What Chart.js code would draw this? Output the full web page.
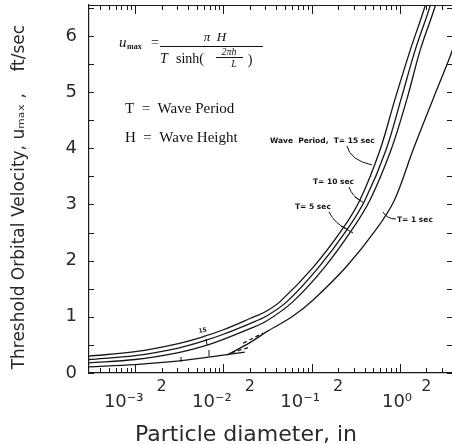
<!DOCTYPE html>
<html>
<head>
<meta charset="utf-8">
<script src="https://cdn.jsdelivr.net/npm/chart.js@4/dist/chart.umd.min.js"></script>
<style>
  html, body { margin: 0; padding: 0; background: #fff; }
  #wrap { width: 452px; height: 444px; position: relative; }
</style>
</head>
<body>
<div id="wrap"><canvas id="chart"></canvas></div>
<script>
// particle diameter (in) / threshold orbital velocity (ft/sec)
var t15D = [0.0003, 0.001, 0.003, 0.006, 0.01, 0.02, 0.0305, 0.0439, 0.104, 0.221, 0.353, 0.596, 0.88, 1.32, 1.92, 2.3];
var t15V = [0.30, 0.38, 0.52, 0.65, 0.77, 0.97, 1.10, 1.27, 1.88, 2.55, 3.08, 3.97, 4.87, 5.76, 6.52, 7.0];

var t10D = [0.0003, 0.001, 0.003, 0.006, 0.01, 0.02, 0.0305, 0.0526, 0.12, 0.252, 0.403, 0.697, 1.03, 1.50, 2.19, 2.6];
var t10V = [0.24, 0.31, 0.44, 0.57, 0.69, 0.88, 1.01, 1.27, 1.88, 2.55, 3.08, 3.97, 4.87, 5.76, 6.52, 7.0];

var t5D = [0.0003, 0.001, 0.003, 0.006, 0.01, 0.02, 0.0305, 0.0615, 0.14, 0.287, 0.459, 0.794, 1.20, 1.71, 2.50, 3.0];
var t5V = [0.18, 0.24, 0.36, 0.48, 0.60, 0.79, 0.92, 1.27, 1.88, 2.55, 3.08, 3.97, 4.87, 5.76, 6.52, 7.0];

var t1D = [0.011, 0.02, 0.0313, 0.06, 0.104, 0.25, 0.536, 0.87, 1.41, 2.37, 3.7, 4.6];
var t1V = [0.32, 0.54, 0.74, 1.0, 1.30, 1.9, 2.55, 3.08, 3.97, 4.87, 5.63, 6.05];

// lower (fine grain) branch of the T = 1 sec curve
var t1FineD = [0.0003, 0.001, 0.003, 0.006, 0.01, 0.0175];
var t1FineV = [0.11, 0.15, 0.21, 0.27, 0.32, 0.37];

// short dashed transition strokes
var transD = [0.0122, 0.019, 0.0175, 0.0167, 0.028];
var transV = [0.36, 0.45, null, 0.53, 0.71];

// axis ticks
var xTickValues = [];
[-4, -3, -2, -1, 0].forEach(function (e) {
  for (var m = 1; m <= 9; m++) {
    var v = Number((m * Math.pow(10, e)).toPrecision(3));
    if (v >= 0.0004 && v <= 3) xTickValues.push(v);
  }
});
var decadeLabels = { '-3': '10\u207B\u00B3', '-2': '10\u207B\u00B2', '-1': '10\u207B\u00B9', '0': '10\u2070' };
var decadePad = { '-3': '    ', '-2': '    ', '-1': '    ', '0': ' ' };

function pts(xs, ys) {
  return xs.map(function (x, i) { return { x: x, y: ys[i] }; });
}
function isDecade(v) {
  var lg = Math.log10(v);
  return Math.abs(lg - Math.round(lg)) < 1e-6;
}
function isTwo(v) {
  var lg = Math.floor(Math.log10(v) + 1e-9);
  return Math.abs(v / Math.pow(10, lg) - 2) < 1e-6;
}

function curve(data, dash) {
  return {
    data: data,
    borderColor: '#151515',
    borderWidth: 1.3,
    borderDash: dash || [],
    pointRadius: 0,
    fill: false,
    tension: 0.35,
    spanGaps: false
  };
}

var frameTicks = {
  id: 'frameTicks',
  afterDraw: function (chart) {
    var ctx = chart.ctx, a = chart.chartArea, x = chart.scales.x, y = chart.scales.y;
    ctx.save();
    ctx.strokeStyle = '#1a1a1a';
    ctx.lineWidth = 1;
    ctx.beginPath();
    ctx.moveTo(a.left, a.top + 0.5);
    ctx.lineTo(a.right, a.top + 0.5);
    x.ticks.forEach(function (t) {
      var p = Math.round(x.getPixelForValue(t.value)) + 0.5;
      var len = isDecade(t.value) ? 9 : 5;
      ctx.moveTo(p, a.bottom);
      ctx.lineTo(p, a.bottom - len);
      ctx.moveTo(p, a.top);
      ctx.lineTo(p, a.top + len);
    });
    y.ticks.forEach(function (t) {
      var p = Math.round(y.getPixelForValue(t.value)) + 0.5;
      ctx.moveTo(a.left, p);
      ctx.lineTo(a.left + 5, p);
      ctx.moveTo(a.right, p);
      ctx.lineTo(a.right - 5, p);
    });
    ctx.stroke();
    ctx.restore();
  }
};

var notes = {
  id: 'notes',
  afterDraw: function (chart) {
    var ctx = chart.ctx;
    function seg(x1, y1, x2, y2) { ctx.beginPath(); ctx.moveTo(x1, y1); ctx.lineTo(x2, y2); ctx.stroke(); }
    function lead(x1, y1, cx, cy, x2, y2) { ctx.beginPath(); ctx.moveTo(x1, y1); ctx.quadraticCurveTo(cx, cy, x2, y2); ctx.stroke(); }
    ctx.save();
    ctx.fillStyle = '#111';
    ctx.strokeStyle = '#111';
    ctx.lineWidth = 1;
    ctx.textBaseline = 'alphabetic';

    // formula
    ctx.font = 'italic 15px "Liberation Serif"';
    ctx.fillText('u', 119, 47);
    ctx.font = 'bold 8px "Liberation Serif"';
    ctx.fillText('max', 127, 49);
    ctx.font = '14px "Liberation Serif"';
    ctx.fillText('=', 151, 47);
    ctx.textAlign = 'center';
    ctx.font = 'italic 13px "Liberation Serif"';
    ctx.fillText('\u03C0  H', 215, 41);
    seg(160, 46.5, 263, 46.5);
    ctx.textAlign = 'left';
    ctx.font = 'italic 14px "Liberation Serif"';
    ctx.fillText('T', 160, 63);
    ctx.font = '14px "Liberation Serif"';
    ctx.fillText('sinh(', 176, 63);
    ctx.textAlign = 'center';
    ctx.font = 'italic 10px "Liberation Serif"';
    ctx.fillText('2\u03C0h', 229, 55);
    seg(216, 57.5, 243, 57.5);
    ctx.fillText('L', 234, 67);
    ctx.font = '14px "Liberation Serif"';
    ctx.fillText(')', 250, 64);
    ctx.textAlign = 'left';

    ctx.font = '15px "Liberation Serif"';
    ctx.fillText('T  =  Wave Period', 125, 113);
    ctx.fillText('H  =  Wave Height', 125, 142);

    // curve labels
    ctx.font = 'bold 7.5px "DejaVu Sans"';
    ctx.fillText('Wave  Period,  T= 15 sec', 270, 143);
    ctx.fillText('T= 10 sec', 313, 184);
    ctx.fillText('T= 5 sec', 295, 209);
    ctx.fillText('T= 1 sec', 397, 222);
    lead(347, 146, 350, 160, 372, 165);
    lead(349, 187, 352, 196, 361, 201);
    lead(329, 212, 335, 224, 347, 229);
    lead(383, 212, 387, 219, 396, 219);
    seg(355, 197, 364, 203);
    seg(341, 226, 353, 233);

    // fine grain region marks
    ctx.save();
    ctx.translate(199, 333);
    ctx.rotate(-0.2);
    ctx.font = 'bold 6px "DejaVu Sans"';
    ctx.fillText('15', 0, 0);
    ctx.restore();
    seg(206, 339, 207, 345);
    seg(181, 357, 181, 362);
    seg(209, 350, 209, 356);
    ctx.restore();
  }
};

new Chart(document.getElementById('chart'), {
  type: 'line',
  data: {
    datasets: [
      curve(pts(t15D, t15V)),
      curve(pts(t10D, t10V)),
      curve(pts(t5D, t5V)),
      curve(pts(t1D, t1V)),
      curve(pts(t1FineD, t1FineV)),
      curve(pts(transD, transV), [4, 3])
    ]
  },
  options: {
    responsive: true,
    maintainAspectRatio: false,
    animation: false,
    layout: { padding: { top: 5, right: 0, bottom: 0, left: 0 } },
    plugins: { legend: { display: false }, tooltip: { enabled: false } },
    scales: {
      x: {
        type: 'logarithmic',
        min: 0.0003,
        max: 3.9,
        afterBuildTicks: function (s) {
          s.ticks = xTickValues.map(function (v) { return { value: v }; });
        },
        afterFit: function (s) {
          s.height = 71;
          s.paddingLeft = 0; s.paddingRight = 0;
        },
        grid: { display: false, drawTicks: false },
        border: { display: true, color: '#1a1a1a', width: 1.2 },
        ticks: {
          autoSkip: false,
          maxRotation: 0,
          minRotation: 0,
          padding: 6,
          color: '#2a2a2a',
          font: function (c) {
            if (c.tick && isDecade(c.tick.value)) return { family: 'DejaVu Sans', size: 18, lineHeight: 0.85 };
            return { family: 'DejaVu Sans', size: 16, lineHeight: 1 };
          },
          callback: function (v) {
            if (isDecade(v)) {
              var e = String(Math.round(Math.log10(v)));
              return decadeLabels[e] ? ['', decadeLabels[e] + decadePad[e]] : '';
            }
            return isTwo(v) ? '2' : '';
          }
        },
        title: {
          display: true,
          text: 'Particle diameter, in       ',
          color: '#2a2a2a',
          font: { family: 'DejaVu Sans', size: 22, lineHeight: 0.8 },
          padding: { top: 0, bottom: 0 }
        }
      },
      y: {
        min: 0,
        max: 6.55,
        afterFit: function (s) {
          s.width = 89;
          s.paddingTop = 0; s.paddingBottom = 0;
        },
        grid: { display: false, drawTicks: false },
        border: { display: true, color: '#1a1a1a', width: 1.2 },
        ticks: {
          stepSize: 0.5,
          includeBounds: false,
          padding: 12,
          color: '#2a2a2a',
          font: { family: 'DejaVu Sans', size: 18 },
          callback: function (v) { return Number.isInteger(v) ? String(v) : ''; }
        },
        title: {
          display: true,
          text: 'Threshold Orbital Velocity, u\u2098\u2090\u2093 ,    ft/sec   ',
          color: '#2a2a2a',
          font: { family: 'DejaVu Sans', size: 17 },
          padding: { top: 9, bottom: 0 }
        }
      }
    }
  },
  plugins: [frameTicks, notes]
});
</script>
</body>
</html>
